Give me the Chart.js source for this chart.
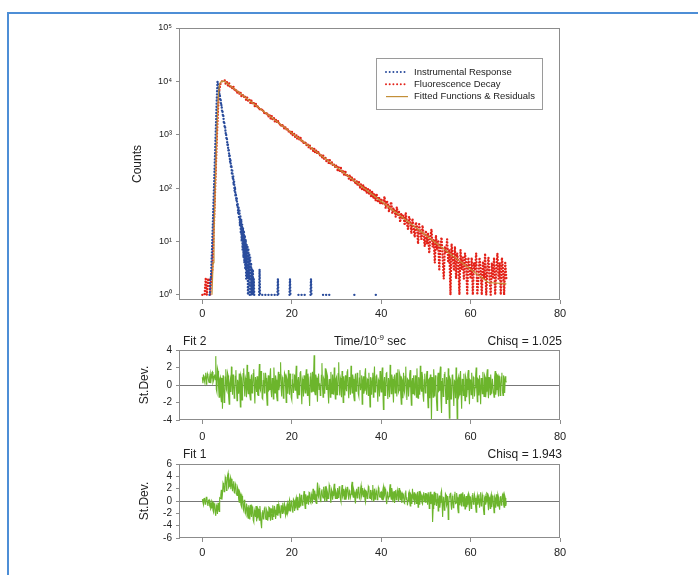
<!DOCTYPE html>
<html>
<head>
<meta charset="utf-8">
<title>Fluorescence decay</title>
<script src="https://cdn.jsdelivr.net/npm/chart.js@4.4.1/dist/chart.umd.min.js"></script>
<style>
  html, body { margin: 0; padding: 0; background: #fff; }
  body { position: relative; width: 698px; height: 575px; overflow: hidden; }
  .frame { position: absolute; left: 7px; top: 12px; width: 720px; height: 600px;
           border-top: 2px solid #4d8ed6; border-left: 2px solid #4d8ed6; }
  canvas { position: absolute; left: 0; }
  #decayChart { top: 0; }
  #fit2Chart { top: 330px; }
  #fit1Chart { top: 444px; }
</style>
</head>
<body>
<div class="frame"></div>
<canvas id="decayChart" width="698" height="330"></canvas>
<canvas id="fit2Chart" width="698" height="120"></canvas>
<canvas id="fit1Chart" width="698" height="124"></canvas>
<script>
// Achsen / Ticks
const xTicks = [0, 20, 40, 60, 80];
const countTicks = [1, 10, 100, 1000, 10000, 100000];
const countTickLabels = ['10⁰', '10¹', '10²', '10³', '10⁴', '10⁵'];
const fit2Ticks = [-4, -2, 0, 2, 4];
const fit1Ticks = [-6, -4, -2, 0, 2, 4, 6];

// Fluorescence decay, channel width 0.25 ns from t = 0
const decayStep = 0.25;
const decayCounts = [
  1, 1, 1, 2, 1, 2, 2, 1, 2, 3, 12, 50, 220, 900, 3000, 6500, 8800, 9800, 10200, 10300,
  10450, 8840, 9620, 8300, 9190, 7540, 8230, 7240, 8000, 6580, 7230, 6040, 6660, 5740, 6360, 5270, 5690, 5010, 5440, 4510,
  5050, 4280, 4610, 3890, 4400, 3730, 3940, 3390, 3840, 3190, 3470, 2900, 3190, 2780, 3050, 2530, 2720, 2370, 2610, 2160,
  2400, 2030, 2270, 1900, 2050, 1730, 1940, 1660, 1830, 1510, 1620, 1410, 1570, 1290, 1430, 1240, 1340, 1130, 1220, 1035,
  1165, 970, 1055, 910, 998, 828, 919, 794, 877, 722, 778, 663, 751, 630, 685, 578, 642, 549, 585, 494,
  554, 459, 510, 436, 487, 401, 436, 368, 416, 352, 379, 321, 346, 295, 334, 280, 307, 258, 280, 242,
  273, 217, 246, 200, 240, 192, 215, 171, 205, 164, 182, 149, 178, 140, 161, 133, 151, 118, 137, 112,
  134, 101, 121, 91, 116, 89, 106, 80, 101, 76, 91, 68, 88, 64, 80, 58, 76, 57, 69, 51,
  64, 49, 55, 70, 42, 58, 51, 36, 47, 55, 33, 42, 38, 29, 44, 31, 36, 23, 34, 27,
  31, 20, 35, 22, 17, 29, 24, 14, 27, 18, 12, 23, 19, 9, 21, 15, 11, 20, 13, 8,
  16, 9, 14, 6, 12, 17, 8, 11, 4, 13, 7, 10, 3, 9, 12, 5, 2, 8, 6, 11,
  4, 7, 1, 9, 5, 3, 8, 2, 6, 4, 1, 7, 3, 5, 2, 6, 4, 1, 5, 3,
  2, 5, 1, 4, 3, 6, 1, 2, 5, 3, 1, 4, 2, 6, 1, 3, 5, 2, 1, 4,
  2, 5, 1, 3, 6, 2, 4, 1, 5, 3, 1, 4, 2
];

// Instrumental response, channel width 0.1 ns from t = 1.6
const irfStart = 1.6;
const irfStep = 0.1;
const irfCounts = [
  1, 1, 2, 2, 3, 5, 9, 16, 30, 55, 100, 185, 340, 620, 1150, 2100, 3900, 6800, 9900, 8800,
  7180, 7450, 5660, 5890, 4440, 4630, 3500, 3640, 2750, 2860, 2160, 2260, 1700, 1770, 1340, 1390, 1060, 1100, 830, 864,
  640, 693, 504, 545, 396, 429, 310, 343, 239, 270, 188, 213, 148, 170, 114, 133, 89, 106, 70,
  80, 58, 66, 45, 52, 34, 44, 27, 38, 20, 30, 14, 26, 10, 21, 7, 18, 5, 16, 4,
  13, 3, 11, 2, 9, 2, 8, 1, 7, 2, 6, 1, 5, 1, 4, 1, 3, 1, 3, 1, 2, 1, 1
];
// single counts further out (null = empty channels)
const irfTailTime = [12.7, 12.8, 12.9, 13.1, 13.4, 16.2, 16.5, 16.8, 16.9, 17.0, 17.2, 19.5, 19.6, 19.7, 20.0,
  21.5, 23.4, 23.8, 24.2, 24.3, 24.4, 24.7, 27.0, 28.8, 29.2, 34.0, 34.3, 34.6, 38.8, 39.1];
const irfTailCounts = [1, 3, 1, null, 1, 1, null, 1, 2, 1, null, 1, 2, 1, null,
  1, 1, null, 1, 2, 1, null, 1, 1, null, 1, 1, null, 1, 1];

// Fitted function
const fitTime = [2.15, 2.4, 2.6, 2.8, 3.0, 3.2, 3.4, 3.6, 3.8, 4.0, 4.3, 4.7, 5.0, 20, 40, 60, 64, 68];
const fitCounts = [1, 4, 14, 55, 220, 800, 2500, 5600, 8200, 9400, 10000, 10100, 9900, 1080, 56.5, 3.0, 1.7, 1.6];

// Residuals in St.Dev., channel width 0.125 ns from t = 0
const residStep = 0.125;
const resid2 = [
  0.9, 0.2, 1.2, 0.7, 0.4, 1.0, 1.4, 0.1, 0.6, 1.3, 1.1, 0.5, 0.3, 0.9, 1.3, 0.2, 0.8, 1.4, 1.5, 0.3,
  0.5, 1.0, 1.2, 0.6, 3.3, -0.5, -0.8, 1.9, 1.6, -0.2, -1.4, 0.7, 0.9, -1.2, -1.9, 0.8, -2.7, 1.1, 0.4, -2.0,
  -1.6, 0.9, 1.8, -0.5, -0.7, 1.4, 1.1, -1.3, -2.2, 0.2, 0.6, -0.8, 2.1, 0.4, -1.1, 1.2, 0.3, -1.5, -0.9, 1.0,
  1.7, -0.3, -1.8, 0.6, 0.2, -1.0, 1.3, -0.6, -2.5, 1.1, 0.8, -1.7, -0.4, 1.3, 1.9, -0.2, -1.3, 0.8, 0.5, -1.4,
  2.3, -0.4, -1.0, 1.5, 0.7, -1.2, -1.7, 0.6, 1.2, -0.9, -0.3, 1.3, 1.8, -0.5, -2.1, 0.9, 0.4, -0.8, 1.0, -1.1,
  -1.2, 0.7, 2.4, -0.4, -0.6, 1.6, 0.9, -1.5, -1.6, 0.5, 1.4, -0.9, -0.2, 1.4, 0.8, -1.2, -2.3, 0.3, 1.1, -0.6,
  -0.5, 1.0, 1.9, -0.7, -1.4, 0.8, 0.3, -1.6, 2.0, 0.4, -0.9, 1.1, 0.6, -1.3, -1.8, 0.5, 1.5, -0.6, -0.1, 1.2,
  2.6, -0.4, -1.3, 0.9, 0.7, -1.5, -0.8, 1.4, 1.2, -0.3, -2.0, 0.8, 0.5, -1.0, 1.7, 0.2, -1.1, 1.3, 0.2, -1.4,
  -1.7, 0.6, 1.3, -0.9, 0.1, 1.2, -0.6, 0.8, 2.2, -0.7, -1.5, 0.5, 0.9, -1.1, -0.3, 1.4, 1.6, -0.6, -2.2, 0.7,
  0.4, -1.3, 1.1, -0.2, -0.9, 1.0, 1.8, -0.5, -1.2, 1.3, 0.6, -1.0, -2.4, 0.9, 1.4, -0.8, 0.0, 1.5, -0.7, 0.9,
  3.4, -0.8, -1.1, 1.2, 0.8, -0.6, -1.9, 0.9, 1.3, -0.5, 0.2, -1.2, -0.8, 1.1, 2.5, -0.3, -1.4, 0.8, 0.6, -1.0,
  1.9, 0.4, -0.5, 1.3, 1.0, -0.9, -2.1, 0.6, 0.7, -1.4, 1.5, 0.2, -1.0, 1.2, 0.3, -1.1, 2.0, -0.4, -1.6, 0.7,
  0.9, -1.1, -0.4, 1.3, 2.6, -0.5, -1.2, 0.8, 0.5, -1.4, 1.6, 0.2, -2.0, 1.0, 0.2, -1.2, 1.1, -0.3, -0.7, 1.5,
  1.8, -0.6, -1.5, 0.9, 0.4, -1.1, 2.2, 0.1, -0.9, 1.2, 0.7, -1.3, -1.8, 0.6, 1.3, -0.7, -0.2, 1.4, 0.9, -1.0,
  -1.3, 0.8, 1.7, -0.6, 0.1, 1.1, -2.2, 0.5, 1.0, -1.0, -0.6, 1.3, 1.9, -0.4, -1.1, 0.7, 0.6, -1.2, 1.4, -0.3,
  -2.5, 0.9, 0.3, -1.1, 0.8, 1.4, -1.4, 0.6, 2.1, -0.8, -0.5, 1.0, 1.2, -0.5, -1.9, 0.6, 0.4, -1.3, 1.6, -0.2,
  -0.8, 1.1, 2.0, -0.5, -2.8, 0.4, 0.9, -1.2, -0.3, 1.3, 1.5, -0.7, -1.6, 0.8, 0.2, -1.4, 2.3, 0.3, -1.0, 1.2,
  0.7, -0.6, -2.0, 0.9, 1.2, -0.9, 0.0, 1.4, -1.3, 0.5, 1.8, -0.8, -0.6, 1.3, 1.0, -1.1, -2.2, 0.7, 0.5, -1.5,
  1.4, -0.6, -0.9, 1.0, 2.1, -0.4, -1.7, 0.7, 0.6, -1.3, -0.2, 1.2, 1.7, -0.8, -2.3, 0.4, 0.8, -1.0, 1.1, -0.5,
  -1.2, 1.1, 0.3, -1.4, 1.9, -0.2, -1.5, 0.9, 0.5, -1.1, 2.2, -0.3, -0.7, 1.5, 0.9, -1.2, -1.9, 0.6, 1.3, -0.9,
  -0.4, 1.0, 1.6, -1.2, -2.6, 0.6, 0.7, -1.5, 1.2, -0.3, -4.0, 0.9, 0.5, -1.4, 1.8, 0.1, -1.3, 1.1, 0.2, -1.8,
  -2.9, 0.8, 1.4, -0.7, -0.6, 1.3, 2.1, -1.6, -3.2, 0.4, 0.8, -1.3, -0.9, 1.2, 1.5, -0.5, -2.1, 0.9, 0.3, -1.7,
  1.9, -1.0, -3.8, 0.8, 0.6, -1.6, -1.4, 1.1, 1.2, -0.7, -2.4, 0.5, 0.4, -1.5, 2.0, -0.4, -3.9, 0.6, 0.9, -1.3,
  -1.1, 1.0, 1.6, -0.8, -2.7, 0.7, 0.3, -1.2, 1.3, -0.6, -1.8, 1.0, 0.7, -1.4, -0.5, 1.2, 1.7, -0.9, -2.2, 0.6,
  0.5, -1.1, 1.4, -0.4, -1.6, 0.9, 0.8, -1.3, -0.3, 1.0, 2.0, -0.6, -1.9, 0.7, 0.6, -1.2, 1.1, -0.5, -2.2, 0.8,
  0.2, -1.0, 1.5, -0.3, -1.3, 1.1, 0.9, -1.4, -0.7, 1.2, 1.8, -0.6, -1.5, 0.9, 0.4, -1.1, 1.2, -0.4, -1.0, 0.7,
  0.7, -0.8, -1.4, 0.9, 1.6, -1.1, -0.5, 1.2, 1.1, -0.6, -1.3, 1.0, 0.8, -1.2, -0.2, 0.9, 1.4, -0.7, -1.2, 1.1,
  0.6, -0.9, 1.0, 0.5, 0.3
];
const resid1 = [
  0.3, -0.2, -0.6, 0.4, 0.5, -0.5, -0.4, 0.6, 0.7, -0.3, -0.8, 0.1, 0.2, -0.6, -0.3, -1.3, -1.1, 0.0, -0.2, -1.5,
  -1.8, -0.4, -0.6, -1.9, -2.4, -0.7, -1.0, -2.1, -0.3, -1.2, -1.7, 0.5, 0.4, 1.0, 1.8, 0.2, 1.2, 2.9, 2.6, 1.5,
  2.0, 3.9, 3.6, 1.7, 2.8, 4.1, 4.5, 2.2, 2.4, 3.4, 3.8, 1.9, 2.9, 3.6, 1.6, 2.7, 3.2, 1.4, 1.3, 2.8,
  2.5, 1.2, 0.9, 2.2, 1.9, 0.3, -0.2, 1.4, 1.1, -0.6, -0.9, 0.8, 0.4, -1.3, -1.6, 0.2, -0.5, -1.9, -2.2, -0.4,
  -1.0, -2.4, -2.8, -0.7, -1.4, -3.0, -0.6, -1.8, -2.6, -0.9, -1.2, -3.1, -3.4, -1.5, -1.9, -2.6, -0.8, -3.3, -2.7, -1.1,
  -1.3, -2.5, -3.1, -0.8, -2.0, -3.6, -4.4, -1.9, -1.5, -2.9, -2.4, -1.2, -0.9, -2.7, -3.0, -1.4, -1.7, -3.2, -2.5, -1.0,
  -1.1, -2.5, -3.2, -1.2, -2.0, -3.0, -0.7, -1.9, -2.6, -0.8, -1.4, -2.9, -2.2, -1.1, -0.5, -2.4, -1.9, -0.6, -1.0, -2.2,
  -2.8, -0.7, -1.3, -2.0, -0.3, -1.6, -1.8, -0.5, -0.9, -2.4, -2.1, -0.8, -0.4, -1.9, -1.5, -0.2, 0.2, -1.6, -1.2, 0.1,
  -0.6, -1.4, -1.9, 0.3, 0.1, -1.6, -1.1, 0.2, 0.6, -0.8, -1.4, 0.7, -0.2, -1.0, 1.2, 0.1, -0.9, 1.0, 0.3, -0.7,
  -0.5, 0.8, 1.6, -0.3, -1.2, 1.1, 0.4, -0.5, 0.9, 0.2, -0.6, 1.4, 1.3, -0.1, -0.3, 1.1, 0.7, -0.4, 2.0, 0.5,
  0.2, 1.7, 1.1, -0.2, -0.4, 1.3, 3.0, 0.9, 0.6, 2.1, 1.5, 0.3, -0.2, 1.6, 1.9, 0.8, 0.5, 2.3, 1.2, -0.1,
  2.4, 1.0, 0.1, 1.8, 1.4, 0.4, 0.7, 2.6, 2.2, 0.6, -0.3, 1.9, 1.6, 0.2, 0.9, 2.0, 2.8, 1.1, 0.4, 1.6,
  1.3, 0.4, 2.1, 1.2, 0.5, 2.4, 1.7, 0.3, -0.1, 1.6, 2.6, 0.7, 1.0, 2.0, 0.3, 1.5, 1.9, 0.2, 0.8, 2.2,
  2.3, 0.9, 0.2, 1.7, 1.5, 0.6, 1.1, 2.5, 3.1, 1.0, 0.6, 1.8, 1.4, 0.3, -0.4, 1.6, 2.0, 0.5, 0.9, 2.3,
  1.6, 0.5, 0.3, 1.9, 2.5, 0.8, 1.2, 2.1, 0.7, 1.5, 1.8, 0.2, -0.2, 1.6, 1.4, 0.4, 0.9, 2.4, 2.2, 0.6,
  0.4, 1.8, 1.1, 0.1, 1.7, 2.6, 0.0, 1.0, 2.0, 0.3, 0.8, 1.7, 1.3, 0.2, 0.5, 2.2, 1.9, 0.7, 0.6, 1.4,
  1.5, 0.3, 0.2, 1.8, 2.3, 0.6, 0.9, 2.0, 1.6, 0.1, -0.5, 1.4, 1.2, 0.4, 0.7, 1.9, 2.7, 0.8, 0.3, 2.1,
  1.4, -0.2, 0.9, 1.6, -0.3, 1.0, 1.8, 0.2, 0.6, 1.7, 1.1, -0.1, 2.1, 0.8, 0.2, 1.5, 1.3, -0.3, 0.5, 1.2,
  1.0, -0.3, -0.4, 1.3, 1.7, 0.2, 0.6, -0.7, 0.1, 1.2, 1.5, -0.2, -0.8, 1.1, 0.9, -0.5, 2.0, 0.6, 0.3, 1.4,
  -0.6, 0.9, 1.2, -0.4, 0.7, 1.5, -1.0, 0.5, 1.6, -0.6, 0.2, 1.2, 0.9, -0.3, -0.5, 1.0, 1.4, -0.1, 0.4, 1.3,
  -0.3, 0.9, 1.1, -0.6, 0.6, 1.4, -1.2, 0.3, 1.5, -0.5, 0.0, 1.1, -3.4, -1.2, 0.8, 1.5, -0.7, 0.4, 1.3, -0.8,
  0.2, 1.2, -1.6, 0.1, 0.9, -1.1, -0.2, 1.3, 1.7, -0.4, -2.6, 0.6, 0.5, -1.5, -0.9, 1.2, 1.0, -0.7, -0.4, 0.8,
  -3.0, -0.5, 0.7, 1.1, 1.2, -0.6, -1.4, 0.8, 0.4, -1.1, -0.8, 1.0, 1.5, -0.4, -0.3, 1.3, 0.6, -1.2, -1.9, 0.5,
  1.1, -0.7, 0.0, 1.2, -0.9, 0.6, 1.4, -0.8, 0.3, 1.1, -1.3, 0.2, 0.8, -1.0, -0.5, 0.9, 1.2, -0.3, -1.6, 0.7,
  0.6, -1.2, -0.7, 0.9, 1.3, -0.5, -0.2, 1.0, 0.5, -0.9, -1.8, 0.4, 0.9, -0.6, 0.1, 1.1, -1.1, 0.3, 1.4, -0.8,
  -0.4, 1.0, 0.6, -1.3, -2.2, 0.5, 0.8, -0.6, -0.1, 1.3, 1.2, -0.4, -1.5, 0.6, 0.3, -1.2, 0.7, 1.1, -1.0, 0.2,
  0.9, -0.6, -1.9, 0.7, 0.4, -1.1, 1.1, -0.2, -0.8, 1.0, 0.6, -0.9, -1.4, 0.6, 0.8, -0.7, -0.3, 1.0, 1.2, -0.5,
  -1.0, 0.9, 0.5, -0.8, -0.2
];

// Farben und Schrift
const blue = '#2a4c9c';
const red = '#e3231a';
const fitColor = '#c38f38';
const green = '#6cb52c';
const axisColor = '#8c8c8c';
const textColor = '#222';
const fontFamily = '"Liberation Sans", Arial, sans-serif';

// Punkte für die Datasets
const decayPoints = decayCounts.map((c, i) => ({ x: i * decayStep, y: c }));
const irfPoints = irfCounts.map((c, i) => ({ x: irfStart + i * irfStep, y: c }))
  .concat([{ x: 12.2, y: null }], irfTailTime.map((t, i) => ({ x: t, y: irfTailCounts[i] })));
const fitPoints = fitTime.map((t, i) => ({ x: t, y: fitCounts[i] }));

// Rahmen, Nulllinie, Texte, Legende
const decorPlugin = {
  id: 'decor',
  beforeDatasetsDraw(chart, args, opts) {
    if (!opts.zeroLine) return;
    const { ctx, chartArea: a } = chart;
    const y = Math.round(chart.scales.y.getPixelForValue(0)) + 0.5;
    ctx.save();
    ctx.strokeStyle = '#777';
    ctx.lineWidth = 1;
    ctx.beginPath();
    ctx.moveTo(a.left, y);
    ctx.lineTo(a.right, y);
    ctx.stroke();
    ctx.restore();
  },
  afterDraw(chart, args, opts) {
    const { ctx, chartArea: a } = chart;
    ctx.save();
    ctx.strokeStyle = axisColor;
    ctx.lineWidth = 1;
    ctx.strokeRect(Math.round(a.left) - 0.5, Math.round(a.top) + 0.5,
      Math.round(a.right - a.left), Math.round(a.bottom - a.top) - 1);

    ctx.fillStyle = textColor;
    ctx.textBaseline = 'middle';

    // Achsentitel
    if (opts.yTitle) {
      ctx.save();
      ctx.font = '12px ' + fontFamily;
      ctx.textAlign = 'center';
      ctx.translate(opts.yTitleX, (a.top + a.bottom) / 2);
      ctx.rotate(-Math.PI / 2);
      ctx.fillText(opts.yTitle, 0, 0);
      ctx.restore();
    }

    // Kopfzeile über dem Panel
    const hy = a.top - (opts.headerGap || 8);
    ctx.font = '12px ' + fontFamily;
    if (opts.left) {
      ctx.textAlign = 'left';
      ctx.fillText(opts.left, a.left + 3, hy);
    }
    if (opts.right) {
      ctx.textAlign = 'right';
      ctx.fillText(opts.right, a.right + 2, hy);
    }
    if (opts.center) {
      const supFont = '8px ' + fontFamily;
      const widths = opts.center.map(p => {
        ctx.font = (p.sup ? supFont : '12px ' + fontFamily);
        return ctx.measureText(p.text).width;
      });
      let x = opts.centerX - widths.reduce((s, w) => s + w, 0) / 2;
      ctx.textAlign = 'left';
      opts.center.forEach((p, i) => {
        ctx.font = (p.sup ? supFont : '12px ' + fontFamily);
        ctx.fillText(p.text, x, p.sup ? hy - 4 : hy);
        x += widths[i];
      });
    }

    // Legende im Diagramm
    if (opts.legend) {
      const L = opts.legend;
      ctx.fillStyle = '#fff';
      ctx.fillRect(L.left, L.top, L.right - L.left, L.bottom - L.top);
      ctx.strokeStyle = '#9a9a9a';
      ctx.strokeRect(L.left + 0.5, L.top + 0.5, L.right - L.left, L.bottom - L.top);
      ctx.font = '9.5px ' + fontFamily;
      ctx.textAlign = 'left';
      chart.data.datasets.forEach((ds, i) => {
        const y = L.firstRow + i * L.rowGap;
        ctx.save();
        ctx.strokeStyle = ds.borderColor;
        ctx.lineWidth = Math.min(ds.borderWidth, 2);
        ctx.lineCap = ds.borderCapStyle || 'butt';
        ctx.setLineDash(ds.borderDash ? [0, 3.7] : []);
        ctx.beginPath();
        ctx.moveTo(L.sampleX, y);
        ctx.lineTo(L.sampleX + 22, y);
        ctx.stroke();
        ctx.restore();
        ctx.fillStyle = textColor;
        ctx.fillText(ds.label, L.sampleX + 28, y);
      });
    }
    ctx.restore();
  }
};

function axisGrid() {
  return { drawOnChartArea: false, drawTicks: true, tickLength: 4, color: axisColor };
}

function xScale(labelPad) {
  return {
    type: 'linear',
    min: -5,
    max: 80,
    afterBuildTicks: s => { s.ticks = xTicks.map(v => ({ value: v })); },
    afterFit: s => { s.height = 30; },
    grid: axisGrid(),
    border: { display: false },
    ticks: { autoSkip: false, maxRotation: 0, padding: labelPad, color: textColor, font: { size: 11, family: fontFamily } }
  };
}

// Zerfallskurve (log)
new Chart(document.getElementById('decayChart'), {
  type: 'line',
  data: {
    datasets: [
      { label: 'Instrumental Response', data: irfPoints, borderColor: blue, borderWidth: 2.4,
        borderDash: [0, 3.1], borderCapStyle: 'round', pointRadius: 0, order: 1 },
      { label: 'Fluorescence Decay', data: decayPoints, borderColor: red, borderWidth: 2.4,
        borderDash: [0, 3.1], borderCapStyle: 'round', pointRadius: 0, order: 2 },
      { label: 'Fitted Functions & Residuals', data: fitPoints, borderColor: fitColor, borderWidth: 1.2,
        pointRadius: 0, order: 0 }
    ]
  },
  options: {
    responsive: false,
    animation: false,
    layout: { padding: { left: 0, top: 28, right: 138, bottom: 0 } },
    scales: {
      x: xScale(3),
      y: {
        type: 'logarithmic',
        min: 0.8,
        max: 100000,
        afterBuildTicks: s => { s.ticks = countTicks.map(v => ({ value: v })); },
        afterFit: s => { s.width = 180; },
        grid: axisGrid(),
        border: { display: false },
        ticks: {
          autoSkip: false, padding: 4, color: textColor, font: { size: 9, family: fontFamily },
          callback: (v, i) => countTickLabels[i]
        }
      }
    },
    plugins: {
      legend: { display: false },
      tooltip: { enabled: false },
      decor: {
        yTitle: 'Counts', yTitleX: 138,
        legend: { left: 376, top: 58, right: 542, bottom: 109, firstRow: 72, rowGap: 12.3, sampleX: 386 }
      }
    }
  },
  plugins: [decorPlugin]
});

// Residuen-Panels
function residualChart(id, values, range, ticks, header) {
  return new Chart(document.getElementById(id), {
    type: 'line',
    data: {
      datasets: [{ label: header.left, data: values.map((v, i) => ({ x: i * residStep, y: v })),
        borderColor: green, borderWidth: 1.1, pointRadius: 0 }]
    },
    options: {
      responsive: false,
      animation: false,
      layout: { padding: { left: 0, top: 20, right: 138, bottom: 0 } },
      scales: {
        x: xScale(header.labelPad),
        y: {
          type: 'linear',
          min: -range,
          max: range,
          afterBuildTicks: s => { s.ticks = ticks.map(v => ({ value: v })); },
          afterFit: s => { s.width = 180; },
          grid: axisGrid(),
          border: { display: false },
          ticks: { autoSkip: false, padding: 4, color: textColor, font: { size: 10, family: fontFamily } }
        }
      },
      plugins: {
        legend: { display: false },
        tooltip: { enabled: false },
        decor: Object.assign({ zeroLine: true, yTitle: 'St.Dev.', yTitleX: 145 }, header)
      }
    },
    plugins: [decorPlugin]
  });
}

residualChart('fit2Chart', resid2, 4, fit2Ticks, {
  left: 'Fit 2', right: 'Chisq = 1.025', headerGap: 8, labelPad: 6, centerX: 370,
  center: [{ text: 'Time/10' }, { text: '-9', sup: true }, { text: ' sec' }]
});
residualChart('fit1Chart', resid1, 6, fit1Ticks, {
  left: 'Fit 1', right: 'Chisq = 1.943', headerGap: 9, labelPad: 4
});
</script>
</body>
</html>
